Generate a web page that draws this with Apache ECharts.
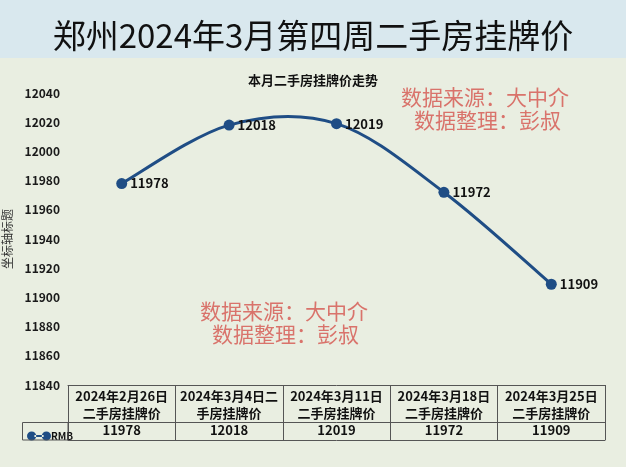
<!DOCTYPE html>
<html>
<head>
<meta charset="utf-8">
<script src="https://cdn.jsdelivr.net/npm/echarts@6/dist/echarts.min.js"></script>
<style>
html,body{margin:0;padding:0;}
#c{width:626px;height:467px;}
</style>
</head>
<body>
<div id="c"></div>
<script>
var mainTitle = '郑州2024年3月第四周二手房挂牌价';
var chartTitle = '本月二手房挂牌价走势';
var categories = ['2024年2月26日二手房挂牌价','2024年3月4日二手房挂牌价','2024年3月11日二手房挂牌价','2024年3月18日二手房挂牌价','2024年3月25日二手房挂牌价'];
var values = [11978, 12018, 12019, 11972, 11909];
var seriesName = 'RMB';
var yAxisName = '坐标轴标题';
var yMin = 11840, yMax = 12040, yStep = 20;
var noteLines = ['数据来源：大中介', '数据整理：彭叔'];

var FONT = '"Noto Sans CJK SC", "Noto Sans", sans-serif';
var chart = echarts.init(document.getElementById('c'), null, {renderer: 'canvas'});
var valueLabels = values.map(String);
var lineColor = '#1f4d85';
var tableColor = '#555555';
var noteColor = '#d9736b';

// Excel-like smooth curve through the data points (Catmull-Rom style bezier), drawn via the axes' coord mapping
function renderCurve(params, api) {
  if (params.dataIndex !== 0) return null;
  var pts = values.map(function (v, i) { return api.coord([i, v]); });
  var n = pts.length;
  var d = 'M' + pts[0][0] + ',' + pts[0][1];
  for (var i = 0; i < n - 1; i++) {
    var p0 = pts[Math.max(i - 1, 0)], p1 = pts[i], p2 = pts[i + 1], p3 = pts[Math.min(i + 2, n - 1)];
    var c1x = p1[0] + (p2[0] - p0[0]) / 6, c1y = p1[1] + (p2[1] - p0[1]) / 6;
    var c2x = p2[0] - (p3[0] - p1[0]) / 6, c2y = p2[1] - (p3[1] - p1[1]) / 6;
    d += ' C' + c1x + ',' + c1y + ' ' + c2x + ',' + c2y + ' ' + p2[0] + ',' + p2[1];
  }
  return {
    type: 'path',
    shape: {pathData: d},
    style: {fill: 'none', stroke: lineColor, lineWidth: 3, lineCap: 'round'}
  };
}

chart.setOption({
  backgroundColor: '#e9eee1',
  textStyle: {fontFamily: FONT},
  title: [
    {text: mainTitle, left: 'center', top: 14,
     textStyle: {fontFamily: FONT, fontSize: 33, fontWeight: 'normal', color: '#111'}},
    {text: chartTitle, left: 'center', top: 69,
     textStyle: {fontFamily: FONT, fontSize: 13, fontWeight: 'bold', color: '#111'}}
  ],
  graphic: [
    {type: 'rect', z: -10, silent: true, shape: {x: 0, y: 0, width: 626, height: 58}, style: {fill: '#d9e8ee'}},
    {type: 'rect', z: 10, silent: true, shape: {x: 22.5, y: 422.5, width: 45.5, height: 17.5}, style: {fill: 'none', stroke: tableColor, lineWidth: 1}},
    {type: 'text', z: 10, silent: true, left: 200, top: 301, style: {text: noteLines[0], font: 'normal 21px ' + FONT, fill: noteColor}},
    {type: 'text', z: 10, silent: true, left: 212, top: 324, style: {text: noteLines[1], font: 'normal 21px ' + FONT, fill: noteColor}},
    {type: 'text', z: 10, silent: true, left: 401, top: 87, style: {text: noteLines[0], font: 'normal 21px ' + FONT, fill: noteColor}},
    {type: 'text', z: 10, silent: true, left: 414, top: 110, style: {text: noteLines[1], font: 'normal 21px ' + FONT, fill: noteColor}}
  ],
  legend: {
    left: 22, top: 426, itemWidth: 24, itemHeight: 10, itemGap: 0,
    icon: 'path://M0,5a5,5 0 1,0 10,0a5,5 0 1,0 -10,0zM16,5a5,5 0 1,0 10,0a5,5 0 1,0 -10,0zM8,4h10v2h-10z',
    textStyle: {fontFamily: FONT, fontSize: 10, fontWeight: 'bold', color: '#111', padding: [0, 0, 0, -5]},
    data: [seriesName]
  },
  grid: {left: 68, right: 21, top: 93, height: 292, containLabel: false, outerBoundsMode: 'none'},
  xAxis: [
    {type: 'category', data: categories, boundaryGap: true, position: 'bottom',
     axisLine: {show: true, lineStyle: {color: tableColor, width: 1}},
     axisTick: {show: true, interval: 0, length: 55, lineStyle: {color: tableColor, width: 1}},
     axisLabel: {interval: 0, width: 104, overflow: 'break', fontFamily: FONT, fontSize: 13, fontWeight: 'bold', lineHeight: 17, margin: 3, color: '#111'},
     splitLine: {show: false}},
    {type: 'category', data: valueLabels, boundaryGap: true, position: 'bottom', offset: 37,
     axisLine: {show: true, lineStyle: {color: tableColor, width: 1}},
     axisTick: {show: false},
     axisLabel: {interval: 0, fontFamily: FONT, fontSize: 13, fontWeight: 'bold', margin: 2, color: '#111'}},
    {type: 'category', data: valueLabels, boundaryGap: true, position: 'bottom', offset: 55,
     axisLine: {show: true, lineStyle: {color: tableColor, width: 1}},
     axisTick: {show: false}, axisLabel: {show: false}}
  ],
  yAxis: {
    type: 'value', min: yMin, max: yMax, interval: yStep,
    name: yAxisName, nameLocation: 'middle', nameGap: 48, nameRotate: 90,
    nameTextStyle: {fontFamily: FONT, fontSize: 12, color: '#333'},
    axisLine: {show: false}, axisTick: {show: false}, splitLine: {show: false},
    axisLabel: {fontFamily: FONT, fontSize: 12, fontWeight: 'bold', color: '#1a1a1a', margin: 8,
                formatter: function (v) { return String(v); }}
  },
  series: [
    {
      name: seriesName + '-curve', type: 'custom', xAxisIndex: 0, yAxisIndex: 0,
      data: values.map(function (v, i) { return [i, v]; }),
      renderItem: renderCurve, silent: true, z: 2
    },
    {
      name: seriesName, type: 'line', xAxisIndex: 0, data: values,
      symbol: 'circle', symbolSize: 11, z: 3,
      lineStyle: {color: lineColor, width: 0, opacity: 0},
      itemStyle: {color: lineColor},
      label: {show: true, position: 'right', distance: 3, fontFamily: FONT, fontSize: 13, fontWeight: 'bold', color: '#111'}
    }
  ]
});
</script>
</body>
</html>
